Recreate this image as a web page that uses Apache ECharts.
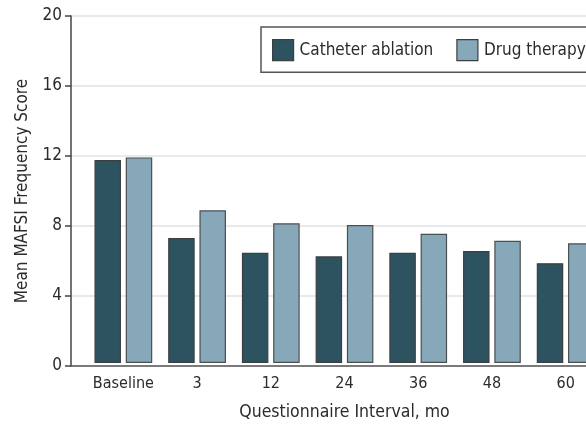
<!DOCTYPE html>
<html>
<head>
<meta charset="utf-8">
<script src="https://cdn.jsdelivr.net/npm/echarts@6/dist/echarts.min.js"></script>
<style>
    html, body { margin: 0; padding: 0; background: #fff; overflow: hidden; }
    /* the reference is cropped on the right, so the chart is drawn wider than the window */
    #chart { width: 620px; height: 426px; }
</style>
</head>
<body>
<div id="chart"></div>
<script>
var categories = ['Baseline', '3', '12', '24', '36', '48', '60'];
var catheterAblation = [11.7, 7.2, 6.35, 6.15, 6.35, 6.45, 5.75];
var drugTherapy = [11.85, 8.8, 8.05, 7.95, 7.45, 7.05, 6.9];
var yTicks = [0, 4, 8, 12, 16, 20];

var font = '"DejaVu Sans Condensed", "Liberation Sans Narrow", sans-serif';

var chart = echarts.init(document.getElementById('chart'));

var option = {
    animation: false,
    textStyle: { fontFamily: font },
    legend: {
        orient: 'horizontal',
        top: 27,
        left: 261,
        padding: [12, 30, 11, 11],
        itemWidth: 21,
        itemHeight: 21,
        itemGap: 23,
        icon: 'rect',
        borderColor: '#555',
        borderWidth: 1.5,
        borderRadius: 0,
        itemStyle: { borderColor: '#3a3f42', borderWidth: 1.2 },
        textStyle: { fontSize: 17, color: '#2b2b2b', fontFamily: font, padding: [0, 0, 0, 1] },
        data: ['Catheter ablation', 'Drug therapy']
    },
    grid: [
        { left: 86.5, right: 17.5, top: 16, bottom: 60 },
        { left: 71, right: 17.5, top: 16, bottom: 60 }
    ],
    xAxis: [
        {
            type: 'category',
            gridIndex: 0,
            data: categories,
            axisLine: { show: false },
            axisTick: { show: false },
            axisLabel: { interval: 0, fontSize: 16, color: '#2b2b2b', margin: 13, fontFamily: font },
            name: 'Questionnaire Interval, mo',
            nameLocation: 'middle',
            nameGap: 40,
            nameTextStyle: { fontSize: 17.5, color: '#2b2b2b', fontFamily: font }
        },
        {
            type: 'value',
            gridIndex: 1,
            min: 0,
            max: 1,
            axisLine: { show: true, lineStyle: { color: '#555', width: 1.5 } },
            axisTick: { show: false },
            axisLabel: { show: false },
            splitLine: { show: false }
        }
    ],
    yAxis: [
        {
            type: 'value',
            gridIndex: 0,
            min: 0,
            max: 20,
            interval: 4,
            show: false
        },
        {
            type: 'value',
            gridIndex: 1,
            min: yTicks[0],
            max: yTicks[yTicks.length - 1],
            interval: 4,
            axisLine: { show: true, lineStyle: { color: '#444', width: 1.5 } },
            axisTick: { show: true, length: 6, lineStyle: { color: '#444', width: 1.5 } },
            axisLabel: { fontSize: 17, color: '#2b2b2b', margin: 9, fontFamily: font },
            splitLine: { show: true, lineStyle: { color: '#e2e2e2', width: 1.5 } },
            name: 'Mean MAFSI Frequency Score',
            nameLocation: 'middle',
            nameGap: 40,
            nameTextStyle: { fontSize: 17, color: '#2b2b2b', fontFamily: font }
        }
    ],
    series: [
        {
            name: 'Catheter ablation',
            type: 'bar',
            xAxisIndex: 0,
            yAxisIndex: 0,
            barWidth: 26.5,
            barGap: '18%',
            itemStyle: { color: '#2e5360', borderColor: '#3a3f42', borderWidth: 1.2 },
            data: catheterAblation
        },
        {
            name: 'Drug therapy',
            type: 'bar',
            xAxisIndex: 0,
            yAxisIndex: 0,
            barWidth: 26.5,
            barGap: '18%',
            itemStyle: { color: '#87a8b8', borderColor: '#4a4f52', borderWidth: 1.2 },
            data: drugTherapy
        }
    ]
};

chart.setOption(option);
</script>
</body>
</html>
